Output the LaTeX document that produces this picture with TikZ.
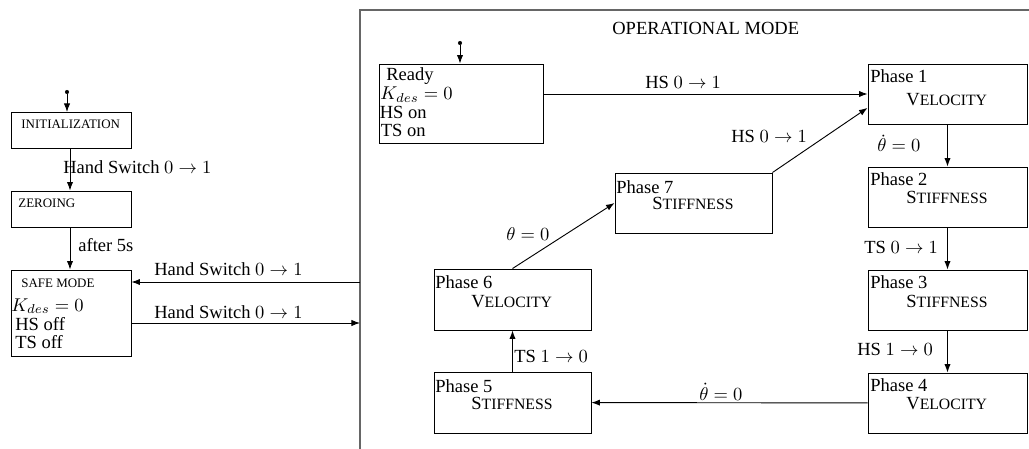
\documentclass[tikz,border=0pt]{standalone}
\usepackage{fontspec}
\setmainfont{Liberation Serif}
\usetikzlibrary{fit,arrows.meta}
\newcommand\mysc[2]{#1{\fontsize{8.5}{10}\selectfont #2}}
\begin{document}
\begin{tikzpicture}[x=0.54pt,y=-0.54pt,
  box/.style={draw, inner sep=0pt, line width=0.5pt},
  arr/.style={line width=0.5pt, -{Latex[length=4.6pt,width=3.4pt]}},
  txt/.style={inner sep=0pt, anchor=base west, font=\fontsize{10}{12}\selectfont},
  small/.style={inner sep=0pt, anchor=base west, font=\scriptsize},
  dot/.style={circle, fill, inner sep=0pt, minimum size=2.2pt}]
\useasboundingbox (0,0) rectangle (1029,449);
% operational mode frame
\begin{scope}
\clip (0,0) rectangle (1029,449);
\node[box, draw=black!60, line width=0.7pt, fit={(360,10) (1200,520)}] (opm) {};
\end{scope}
\node[txt] (title) at (612,35) {OPERATIONAL MODE};

% left column
\node[box, fit={(11,112) (131,148)}] (init) {};
\node[small] (tinit) at (21,129) {INITIALIZATION};
\node[box, fit={(11,191) (131,227)}] (zero) {};
\node[small] (tzero) at (18,208) {ZEROING};
\node[box, fit={(11,270) (131,356)}] (safe) {};
\node[small] (tsafe) at (21,287) {SAFE MODE};
\node[txt] (tsafe2) at (11,311) {$K_{des}=0$};
\node[txt] (tsafe3) at (15,330) {HS off};
\node[txt] (tsafe4) at (15,348) {TS off};

\node[dot] (d1) at (67,92) {};
\coordinate (d1e) at (67,112);
\draw[arr] (d1) -- (d1e);
\draw[arr] (init.south -| 70,0) -- (zero.north -| 70,0);
\node[txt] (l1) at (63,174) {Hand Switch $0\rightarrow 1$};
\draw[arr] (zero.south -| 70,0) -- (safe.north -| 70,0);
\node[txt] (l2) at (78,251) {after 5s};

\coordinate (in1) at (360,282);
\coordinate (out1) at (360,323);
\draw[arr] (in1) -- (safe.east |- in1);
\node[txt] (l3) at (154,276) {Hand Switch $0\rightarrow 1$};
\draw[arr] (safe.east |- out1) -- (out1);
\node[txt] (l4) at (154,318) {Hand Switch $0\rightarrow 1$};

% ready
\node[box, fit={(379,64) (543,143)}] (ready) {};
\node[txt] (tr1) at (386,81) {Ready};
\node[txt] (tr2) at (380,100) {$K_{des}=0$};
\node[txt] (tr3) at (379.5,119) {HS on};
\node[txt] (tr4) at (380.5,137) {TS on};
\node[dot] (d2) at (460,43) {};
\draw[arr] (d2) -- (ready.north -| d2);

% phases
\node[box, fit={(868,64) (1027,124)}] (p1) {};
\node[txt] (tp1a) at (870,83) {Phase 1};
\node[txt] (tp1b) at (906,106) {\mysc{V}{ELOCITY}};
\node[box, fit={(868,167) (1027,227)}] (p2) {};
\node[txt] (tp2a) at (870,186) {Phase 2};
\node[txt] (tp2b) at (906,204) {\mysc{S}{TIFFNESS}};
\node[box, fit={(868,270) (1027,330)}] (p3) {};
\node[txt] (tp3a) at (870,288) {Phase 3};
\node[txt] (tp3b) at (906,307) {\mysc{S}{TIFFNESS}};
\node[box, fit={(868,373) (1027,433)}] (p4) {};
\node[txt] (tp4a) at (870,391) {Phase 4};
\node[txt] (tp4b) at (906,409) {\mysc{V}{ELOCITY}};
\node[box, fit={(434,372) (591,433)}] (p5) {};
\node[txt] (tp5a) at (435,392) {Phase 5};
\node[txt] (tp5b) at (471,409) {\mysc{S}{TIFFNESS}};
\node[box, fit={(434,269) (591,330)}] (p6) {};
\node[txt] (tp6a) at (435,288) {Phase 6};
\node[txt] (tp6b) at (471,307) {\mysc{V}{ELOCITY}};
\node[box, fit={(615,173) (772,233)}] (p7) {};
\node[txt] (tp7a) at (616,193) {Phase 7};
\node[txt] (tp7b) at (652,210) {\mysc{S}{TIFFNESS}};

% transitions
\draw[arr] (ready.east |- p1.west) -- (p1.west);
\node[txt] (l5) at (645,89) {HS $0\rightarrow 1$};
\draw[arr] (p1) -- (p2);
\node[txt] (l6) at (877,152) {$\dot\theta=0$};
\draw[arr] (p2) -- (p3);
\node[txt] (l7) at (864,253) {TS $0\rightarrow 1$};
\draw[arr] (p3) -- (p4);
\node[txt] (l8) at (857,355) {HS $1\rightarrow 0$};
\draw[arr] (p4) -- (p5);
\node[txt] (l9) at (699,400) {$\dot\theta=0$};
\draw[arr] (p5) -- (p6);
\node[txt] (l10) at (514,362) {TS $1\rightarrow 0$};
\draw[arr] (p6.north) -- (p7.west);
\node[txt] (l11) at (506,240) {$\theta=0$};
\draw[arr] (p7.north east) -- ([yshift=-7.5pt]p1.west);
\node[txt] (l12) at (731,142) {HS $0\rightarrow 1$};
\end{tikzpicture}
\end{document}
